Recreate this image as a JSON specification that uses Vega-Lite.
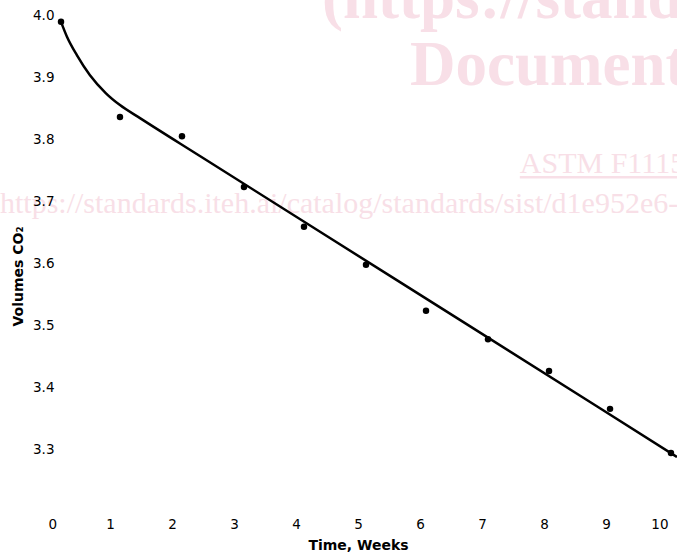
{
  "$schema": "https://vega.github.io/schema/vega-lite/v6.json",
  "width": 620,
  "height": 497,
  "autosize": {"type": "none"},
  "padding": {"left": 48, "top": 15, "right": 9, "bottom": 42},
  "background": "white",
  "config": {
    "view": {"stroke": null},
    "axis": {
      "grid": false, "domain": false, "ticks": false,
      "labelFont": "DejaVu Sans", "labelFontSize": 13.5, "labelColor": "#000",
      "titleFont": "DejaVu Sans", "titleFontSize": 14, "titleFontWeight": "bold", "titleColor": "#000"
    }
  },
  "datasets": {
    "wm_url": [{"label": "https://standards.iteh.ai/catalog/standards/sist/d1e952e6-a8b1", "x": -0.774, "y": 3.681}],
    "wm_big": [
      {"label": "(https://standards.iteh.ai)", "x": 4.42, "y": 3.995},
      {"label": "Document Preview", "x": 5.84, "y": 3.887}
    ],
    "wm_astm": [{"label": "ASTM F1115", "x": 7.61, "y": 3.746}],
    "wm_line": [{"x": 7.61, "x2": 10.6, "y": 3.739}],
    "curve": [
      {"x": 0.21, "y": 3.989},
      {"x": 0.306, "y": 3.965},
      {"x": 0.468, "y": 3.935},
      {"x": 0.677, "y": 3.903},
      {"x": 0.935, "y": 3.874},
      {"x": 1.161, "y": 3.855},
      {"x": 1.484, "y": 3.834},
      {"x": 2.45, "y": 3.773},
      {"x": 5.677, "y": 3.57},
      {"x": 8.903, "y": 3.367},
      {"x": 10.145, "y": 3.2885}
    ],
    "points": [
      {"x": 0.21, "y": 3.989},
      {"x": 1.161, "y": 3.836},
      {"x": 2.161, "y": 3.805},
      {"x": 3.161, "y": 3.723},
      {"x": 4.129, "y": 3.659},
      {"x": 5.129, "y": 3.598},
      {"x": 6.097, "y": 3.524},
      {"x": 7.097, "y": 3.478},
      {"x": 8.081, "y": 3.427},
      {"x": 9.065, "y": 3.366},
      {"x": 10.048, "y": 3.295}
    ]
  },
  "encoding": {
    "x": {
      "field": "x", "type": "quantitative",
      "scale": {"domain": [0, 10], "nice": false, "zero": false},
      "axis": {
        "values": [0, 1, 2, 3, 4, 5, 6, 7, 8, 9, 10], "format": "d",
        "labelPadding": 5, "labelBaseline": "top",
        "title": "Time, Weeks", "titleX": 310, "titleY": 33, "titleBaseline": "middle"
      }
    },
    "y": {
      "field": "y", "type": "quantitative",
      "scale": {"domain": [3.2, 4.0], "nice": false, "zero": false},
      "axis": {
        "values": [3.3, 3.4, 3.5, 3.6, 3.7, 3.8, 3.9, 4.0], "format": ".1f",
        "labelPadding": -6, "zindex": 1,
        "title": "Volumes CO₂", "titleX": -30, "titleY": 261, "titleBaseline": "middle", "titleAlign": "center"
      }
    }
  },
  "layer": [
    {
      "data": {"name": "wm_url"},
      "mark": {"type": "text", "font": "Liberation Serif", "fontSize": 30, "color": "#f8dfe7", "align": "left", "baseline": "alphabetic"},
      "encoding": {"text": {"field": "label"}}
    },
    {
      "data": {"name": "wm_big"},
      "mark": {"type": "text", "font": "Liberation Serif", "fontSize": 63, "fontWeight": "bold", "color": "#f8dfe7", "align": "left", "baseline": "alphabetic"},
      "encoding": {"text": {"field": "label"}}
    },
    {
      "data": {"name": "wm_astm"},
      "mark": {"type": "text", "font": "Liberation Serif", "fontSize": 30, "color": "#f8dfe7", "align": "left", "baseline": "alphabetic"},
      "encoding": {"text": {"field": "label"}}
    },
    {
      "data": {"name": "wm_line"},
      "mark": {"type": "rule", "color": "#f8dfe7", "strokeWidth": 2.5},
      "encoding": {"x2": {"field": "x2"}}
    },
    {
      "data": {"name": "curve"},
      "mark": {"type": "line", "interpolate": "monotone", "color": "#000", "strokeWidth": 2.5},
      "encoding": {}
    },
    {
      "data": {"name": "points"},
      "mark": {"type": "circle", "color": "#000", "opacity": 1, "size": 42},
      "encoding": {}
    }
  ]
}
